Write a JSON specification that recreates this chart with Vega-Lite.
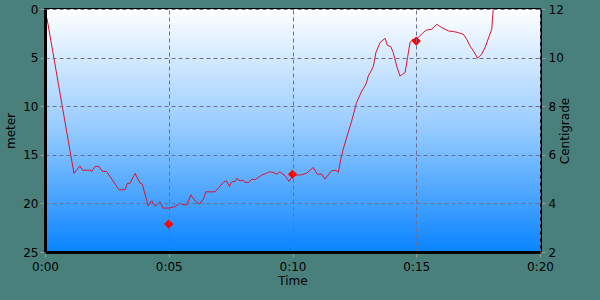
{
  "$schema": "https://vega.github.io/schema/vega-lite/v6.json",
  "width": 495,
  "height": 243,
  "autosize": "none",
  "padding": {"left": 45, "top": 9, "right": 60, "bottom": 48},
  "background": "#4a807c",
  "config": {
    "view": {"stroke": "#000000", "strokeWidth": 2},
    "axis": {
      "labelFont": "DejaVu Sans",
      "labelFontSize": 12,
      "labelColor": "#000000",
      "labelFlush": false,
      "titleFont": "DejaVu Sans",
      "titleFontSize": 12,
      "titleFontWeight": "normal",
      "titleColor": "#000000",
      "tickColor": "#9a9a9a",
      "tickSize": 5,
      "domainColor": "#000000",
      "domainWidth": 3,
      "gridColor": "#6c7090",
      "gridDash": [4, 3],
      "gridWidth": 1
    }
  },
  "datasets": {
    "depth": [
      {"t": 0.08, "d": 0.96}, {"t": 1.17, "d": 16.92}, {"t": 1.41, "d": 16.14}, {"t": 1.51, "d": 16.58},
      {"t": 1.82, "d": 16.58}, {"t": 1.89, "d": 16.71}, {"t": 2.02, "d": 16.2}, {"t": 2.18, "d": 16.2},
      {"t": 2.32, "d": 16.71}, {"t": 2.49, "d": 16.71}, {"t": 2.99, "d": 18.6}, {"t": 3.23, "d": 18.6},
      {"t": 3.33, "d": 17.94}, {"t": 3.43, "d": 17.94}, {"t": 3.64, "d": 16.92}, {"t": 3.84, "d": 17.91},
      {"t": 3.93, "d": 18.02}, {"t": 4.17, "d": 20.25}, {"t": 4.31, "d": 19.73}, {"t": 4.44, "d": 20.25},
      {"t": 4.54, "d": 20.1}, {"t": 4.65, "d": 19.84}, {"t": 4.76, "d": 20.48}, {"t": 5.02, "d": 20.48},
      {"t": 5.25, "d": 20.33}, {"t": 5.45, "d": 19.97}, {"t": 5.56, "d": 20.1}, {"t": 5.73, "d": 20.17},
      {"t": 5.89, "d": 19.12}, {"t": 6.06, "d": 19.73}, {"t": 6.23, "d": 20.07}, {"t": 6.4, "d": 19.56},
      {"t": 6.5, "d": 18.81}, {"t": 6.87, "d": 18.81}, {"t": 7.2, "d": 17.84}, {"t": 7.34, "d": 17.68},
      {"t": 7.45, "d": 18.25}, {"t": 7.54, "d": 17.78}, {"t": 7.68, "d": 17.74}, {"t": 7.75, "d": 17.43},
      {"t": 7.88, "d": 17.68}, {"t": 8.01, "d": 17.61}, {"t": 8.08, "d": 17.84}, {"t": 8.24, "d": 17.84},
      {"t": 8.35, "d": 17.5}, {"t": 8.48, "d": 17.57}, {"t": 8.62, "d": 17.33}, {"t": 8.76, "d": 17.09},
      {"t": 8.96, "d": 16.89}, {"t": 9.06, "d": 16.75}, {"t": 9.22, "d": 16.81}, {"t": 9.36, "d": 16.99},
      {"t": 9.49, "d": 16.75}, {"t": 9.7, "d": 17.16}, {"t": 9.86, "d": 17.74}, {"t": 10.03, "d": 17.06},
      {"t": 10.3, "d": 17.09}, {"t": 10.57, "d": 16.89}, {"t": 10.84, "d": 16.3}, {"t": 11.0, "d": 16.99},
      {"t": 11.18, "d": 16.99}, {"t": 11.31, "d": 17.5}, {"t": 11.58, "d": 16.65}, {"t": 11.76, "d": 16.58},
      {"t": 11.85, "d": 16.81}, {"t": 11.95, "d": 15.45}, {"t": 12.05, "d": 14.42}, {"t": 12.25, "d": 12.7},
      {"t": 12.39, "d": 11.54}, {"t": 12.59, "d": 9.62}, {"t": 12.8, "d": 8.43}, {"t": 12.93, "d": 7.91},
      {"t": 13.0, "d": 7.5}, {"t": 13.06, "d": 6.89}, {"t": 13.2, "d": 6.27}, {"t": 13.27, "d": 5.86},
      {"t": 13.37, "d": 4.48}, {"t": 13.54, "d": 3.45}, {"t": 13.74, "d": 3.01}, {"t": 13.83, "d": 3.73},
      {"t": 13.97, "d": 3.86}, {"t": 14.07, "d": 4.48}, {"t": 14.21, "d": 5.86}, {"t": 14.34, "d": 6.89},
      {"t": 14.45, "d": 6.71}, {"t": 14.55, "d": 6.54}, {"t": 14.65, "d": 4.99}, {"t": 14.75, "d": 3.45},
      {"t": 14.86, "d": 3.11}, {"t": 14.99, "d": 3.29}, {"t": 15.08, "d": 2.94}, {"t": 15.28, "d": 2.43},
      {"t": 15.42, "d": 2.16}, {"t": 15.62, "d": 2.09}, {"t": 15.83, "d": 1.57}, {"t": 16.03, "d": 1.91},
      {"t": 16.3, "d": 2.26}, {"t": 16.5, "d": 2.32}, {"t": 16.7, "d": 2.43}, {"t": 16.9, "d": 2.6},
      {"t": 17.04, "d": 3.11}, {"t": 17.17, "d": 3.8}, {"t": 17.31, "d": 4.32}, {"t": 17.48, "d": 5.07},
      {"t": 17.64, "d": 4.66}, {"t": 17.78, "d": 3.97}, {"t": 17.95, "d": 2.77}, {"t": 18.05, "d": 2.09},
      {"t": 18.11, "d": 0.0}
    ],
    "temp": [
      {"t": 5.0, "c": 3.15},
      {"t": 10.0, "c": 5.2},
      {"t": 15.0, "c": 10.68}
    ],
    "bg": [{"t0": 0, "t1": 20, "d0": 0, "d1": 25}]
  },
  "layer": [
    {
      "data": {"name": "bg"},
      "mark": {
        "type": "rect",
        "color": {
          "gradient": "linear",
          "x1": 0, "y1": 0, "x2": 0, "y2": 1,
          "stops": [
            {"offset": 0, "color": "#ffffff"},
            {"offset": 0.5, "color": "#94caff"},
            {"offset": 1, "color": "#0a84ff"}
          ]
        }
      },
      "encoding": {
        "x": {"field": "t0", "type": "quantitative", "scale": {"domain": [0, 20], "nice": false}},
        "x2": {"field": "t1"},
        "y": {"field": "d0", "type": "quantitative", "scale": {"domain": [0, 25], "reverse": true}, "axis": null},
        "y2": {"field": "d1"}
      }
    },
    {
      "data": {"name": "depth"},
      "mark": {"type": "line", "color": "#e0102a", "strokeWidth": 1, "clip": true},
      "encoding": {
        "x": {
          "field": "t", "type": "quantitative",
          "scale": {"domain": [0, 20], "nice": false},
          "axis": {
            "title": "Time",
            "values": [0, 5, 10, 15, 20],
            "labelExpr": "'0:' + (datum.value < 10 ? '0' : '') + datum.value",
            "grid": true,
            "zindex": 1,
            "labelPadding": 4,
            "titlePadding": 3
          }
        },
        "y": {
          "field": "d", "type": "quantitative",
          "scale": {"domain": [0, 25], "reverse": true, "nice": false},
          "axis": {
            "title": "meter",
            "values": [0, 5, 10, 15, 20, 25],
            "grid": true,
            "zindex": 1,
            "labelPadding": 2,
            "titlePadding": 5
          }
        }
      }
    },
    {
      "data": {"name": "temp"},
      "mark": {"type": "point", "shape": "diamond", "filled": true, "color": "#ff0000", "size": 85, "opacity": 1},
      "encoding": {
        "x": {"field": "t", "type": "quantitative", "scale": {"domain": [0, 20], "nice": false}},
        "y": {
          "field": "c", "type": "quantitative",
          "scale": {"domain": [2, 12], "nice": false, "zero": false},
          "axis": {
            "orient": "right",
            "title": "Centigrade",
            "titleAngle": 270,
            "values": [2, 4, 6, 8, 10, 12],
            "grid": false,
            "labelPadding": 3,
            "titlePadding": 8
          }
        }
      }
    }
  ],
  "resolve": {"scale": {"y": "independent"}, "axis": {"y": "independent"}}
}
